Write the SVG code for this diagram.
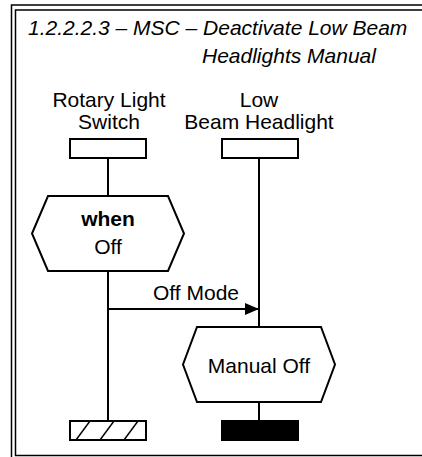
<svg xmlns="http://www.w3.org/2000/svg" width="422" height="457" viewBox="0 0 422 457">
<style>
text{font-family:"Liberation Sans",Arial,sans-serif;font-size:21px;fill:#000}
.t{font-style:italic}
.c{text-anchor:middle}
.b{font-weight:bold}
.s{fill:#fff;stroke:#000;stroke-width:2}
.l{stroke:#000;stroke-width:2;fill:none}
.f{fill:none;stroke:#000;stroke-width:1.5}
</style>
<defs>
<marker id="ah" viewBox="0 0 14 12" refX="14" refY="6" markerWidth="14" markerHeight="12" markerUnits="userSpaceOnUse" orient="auto">
<path d="M0,0 L14,6 L0,12 Z" fill="#000"/>
</marker>
<clipPath id="hc"><rect x="70" y="421" width="76" height="19"/></clipPath>
</defs>
<rect width="422" height="457" fill="#fff"/>
<g id="frame">
<path class="f" d="M430,5 H11.5 V460"/>
<path class="f" d="M430,10 H15.5 V455.5 H430"/>
<text class="t" x="28" y="35">1.2.2.2.3 – MSC – Deactivate Low Beam</text>
<text class="t" x="202" y="63">Headlights Manual</text>
</g>
<g id="connectors">
<line class="l" x1="108" y1="158" x2="108" y2="196"/>
<line class="l" x1="108" y1="271" x2="108" y2="421"/>
<line class="l" x1="259" y1="158" x2="259" y2="327"/>
<line class="l" x1="259" y1="402" x2="259" y2="421"/>
<line class="l" x1="108" y1="309" x2="259" y2="309" marker-end="url(#ah)"/>
<text class="c" x="196" y="300">Off Mode</text>
</g>
<g id="rotary-light-switch">
<text class="c" x="109" y="107">Rotary Light</text>
<text class="c" x="109" y="129">Switch</text>
<rect class="s" x="70" y="139" width="76" height="19"/>
</g>
<g id="low-beam-headlight">
<text class="c" x="259" y="107">Low</text>
<text class="c" x="259" y="129">Beam Headlight</text>
<rect class="s" x="222" y="139" width="76" height="19"/>
</g>
<g id="when-off">
<path class="s" d="M48,196 H168 L184,233.5 L168,271 H48 L32,233.5 Z"/>
<text class="c b" x="108" y="226">when</text>
<text class="c" x="108" y="254">Off</text>
</g>
<g id="manual-off">
<path class="s" d="M197,327 H321 L335,364.5 L321,402 H197 L183,364.5 Z"/>
<text class="c" x="259" y="373">Manual Off</text>
</g>
<g id="end-rotary">
<rect class="s" x="70" y="421" width="76" height="19"/>
<g clip-path="url(#hc)" stroke="#000" stroke-width="1.5">
<line x1="52" y1="440" x2="66" y2="421"/>
<line x1="76" y1="440" x2="90" y2="421"/>
<line x1="100" y1="440" x2="114" y2="421"/>
<line x1="124" y1="440" x2="138" y2="421"/>
</g>
<rect x="70" y="421" width="76" height="19" fill="none" stroke="#000" stroke-width="2"/>
</g>
<g id="end-headlight">
<rect x="222" y="421" width="76" height="19" fill="#000" stroke="#000" stroke-width="2"/>
</g>
</svg>
